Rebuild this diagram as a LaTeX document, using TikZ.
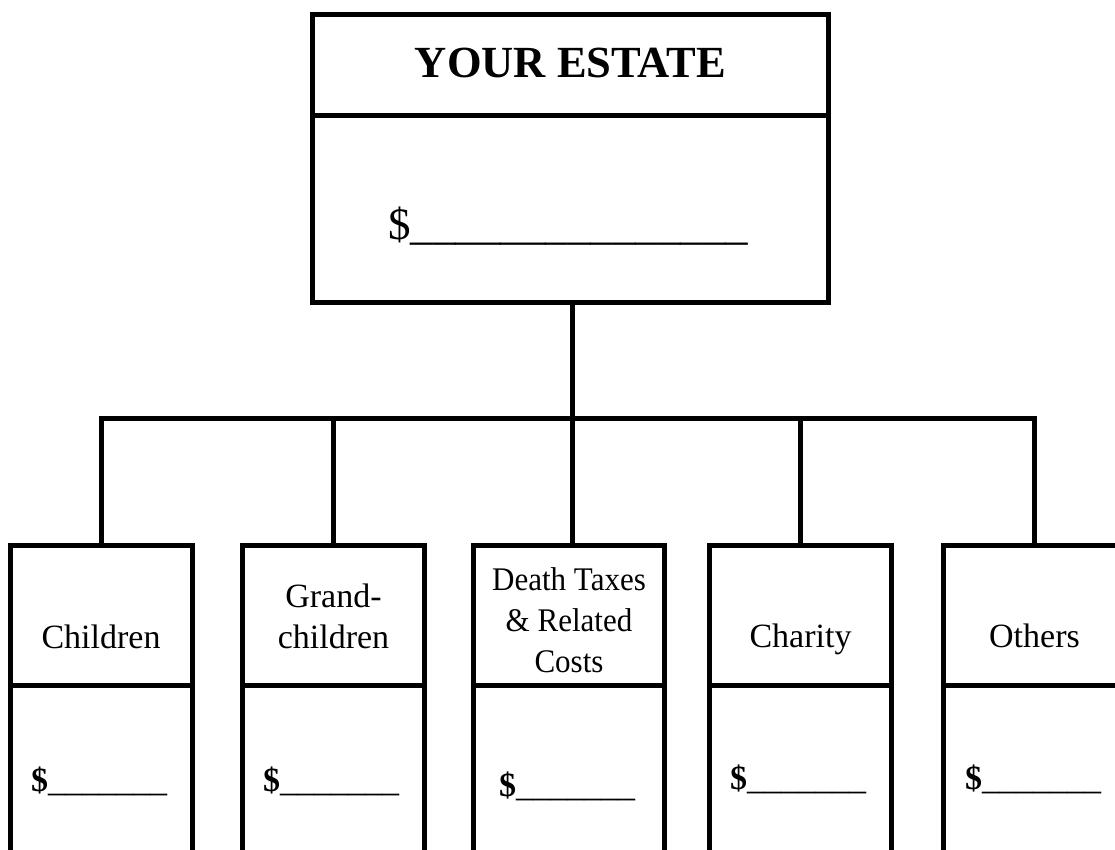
\documentclass[tikz,border=0pt]{standalone}
\usepackage{fontspec}
\setmainfont{Liberation Serif}
\newfontfamily\condfont[FakeStretch=0.94]{Liberation Serif}
\begin{document}
\begin{tikzpicture}[x=1pt,y=-1pt,
  frame/.style={draw=black, line width=5pt, inner sep=0pt, fill=white},
  conn/.style={draw=black, line width=5pt, line join=miter},
  lbl/.style={inner sep=0pt, align=center, anchor=base, font=\fontsize{34}{41}\selectfont},
  amt/.style={inner sep=0pt, anchor=base west, font=\fontsize{34}{41}\selectfont},
  child/.style={frame, minimum width=182pt, minimum height=140pt},
  childbody/.style={frame, minimum width=182pt, minimum height=184.5pt}]
\useasboundingbox (0,0) rectangle (1115,850);
\clip (0,0) rectangle (1115,850);
\fill[white] (0,0) rectangle (1115,850);

% top box
\node[frame, minimum width=515.5pt, minimum height=100.7pt] (estate) at (570.25,65.35) {};
\node[frame, minimum width=515.5pt, minimum height=186.3pt] (estatebody) at (570.25,208.85) {};
\node[inner sep=0pt, anchor=base, font=\fontsize{44.5}{50}\selectfont\bfseries] (estatelbl) at (570.5,78) {YOUR ESTATE};
\node[inner sep=0pt, anchor=base west, font=\fontsize{45}{50}\selectfont] (estateamt) at (388,240) {\$\_\_\_\_\_\_\_\_\_\_\_\_\_\_\_};

% child boxes
\node[child] (children) at (101,615.5) {};
\node[childbody] (childrenbody) at (101,777.75) {};
\node[child] (grand) at (333.5,615.5) {};
\node[childbody] (grandbody) at (333.5,777.75) {};
\node[child, minimum width=191pt] (death) at (569,615.5) {};
\node[childbody, minimum width=191pt] (deathbody) at (569,777.75) {};
\node[child] (charity) at (800.5,615.5) {};
\node[childbody] (charitybody) at (800.5,777.75) {};
\node[child] (others) at (1034.5,615.5) {};
\node[childbody] (othersbody) at (1034.5,777.75) {};

% labels
\node[lbl] (childrenlbl) at (101,648) {Children};
\node[lbl] (grandlbl) at (333.5,648) {Grand-\\children};
\node[lbl, font=\fontsize{33}{41}\condfont] (deathlbl) at (569,672) {Death Taxes\\\& Related\\Costs};
\node[lbl] (charitylbl) at (800.5,647) {Charity};
\node[lbl] (otherslbl) at (1034.5,647) {Others};

% amounts
\node[amt] (childrenamt) at (31,791) {\textbf{\$}\_\_\_\_\_\_\_};
\node[amt] (grandamt) at (263,791) {\textbf{\$}\_\_\_\_\_\_\_};
\node[amt] (deathamt) at (499,796) {\textbf{\$}\_\_\_\_\_\_\_};
\node[amt] (charityamt) at (730,789) {\textbf{\$}\_\_\_\_\_\_\_};
\node[amt] (othersamt) at (965,789) {\textbf{\$}\_\_\_\_\_\_\_};

% connectors
\coordinate (bus) at (572.5,418.5);
\draw[conn] (estatebody.south -| bus) -- (bus) -- (bus |- death.north);
\draw[conn] (children.north) -- (children.north |- bus) -- (others.north |- bus) -- (others.north);
\draw[conn] (grand.north) -- (grand.north |- bus);
\draw[conn] (charity.north) -- (charity.north |- bus);
\end{tikzpicture}
\end{document}
